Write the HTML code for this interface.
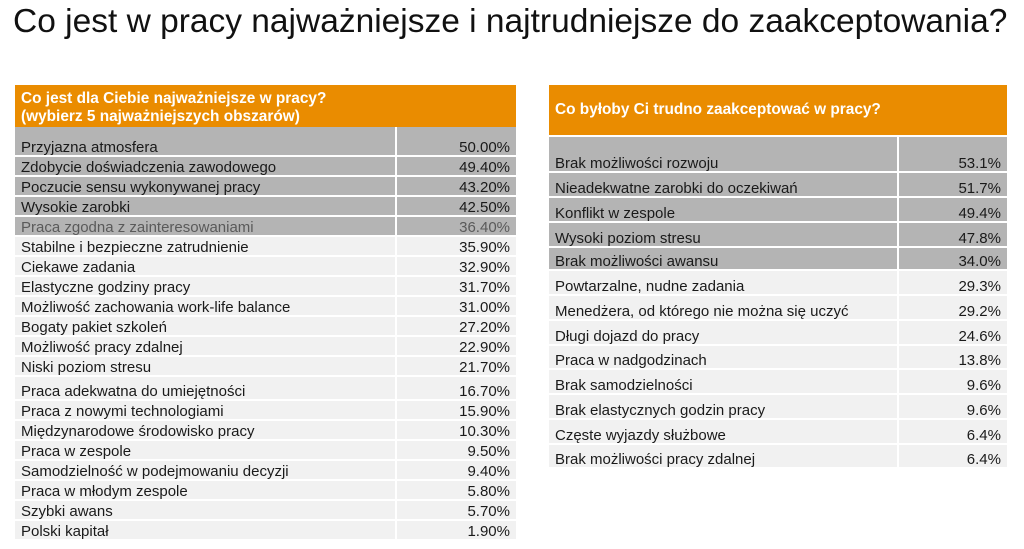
<!DOCTYPE html>
<html><head><meta charset="utf-8"><style>
body{margin:0;width:1024px;height:549px;background:#fff;font-family:"Liberation Sans",Arial,sans-serif;position:relative;overflow:hidden}
.t{position:absolute;left:13px;top:3px;font-size:33.5px;color:#111;white-space:nowrap}
.h{position:absolute;background:#ea8c00;color:#fff;font-weight:bold;font-size:15.4px;line-height:18px;box-sizing:border-box;padding-left:6px;white-space:nowrap}
.r{position:absolute;font-size:15px;color:#1a1a1a;box-sizing:border-box;border-bottom:2px solid #fff}
.r span{position:absolute;bottom:-1px;white-space:nowrap}
.g{background:#b4b4b4}
.l{background:#f1f1f1}
</style></head><body>
<div class="t">Co jest w pracy najważniejsze i najtrudniejsze do zaakceptowania?</div>
<div id="L"></div><div id="R"></div>
<script>
function table(x,w,div,hy,hh,htext,hpadTop,rows){
 let s='<div class="h" style="left:'+x+'px;top:'+hy+'px;width:'+w+'px;height:'+hh+'px;padding-top:'+hpadTop+'px">'+htext+'</div>';
 rows.forEach(r=>{
  const [t,v,y,h,c,col]=r;
  s+='<div class="r '+c+'" style="left:'+x+'px;top:'+y+'px;width:'+w+'px;height:'+h+'px;'+(col?'color:'+col:'')+'">'
   +'<div style="position:absolute;left:'+(div-x)+'px;top:0;bottom:0;width:2px;background:#fff"></div>'
   +'<span style="left:6px">'+t+'</span><span style="right:6px">'+v+'</span></div>';
 });
 return s;
}
const L=[["Przyjazna atmosfera","50.00%",127,30,"g"],["Zdobycie doświadczenia zawodowego","49.40%",157,20,"g"],["Poczucie sensu wykonywanej pracy","43.20%",177,20,"g"],["Wysokie zarobki","42.50%",197,20,"g"],["Praca zgodna z zainteresowaniami","36.40%",217,20,"g","#5a5a5a"],
["Stabilne i bezpieczne zatrudnienie","35.90%",237,20,"l"],["Ciekawe zadania","32.90%",257,20,"l"],["Elastyczne godziny pracy","31.70%",277,20,"l"],["Możliwość zachowania work-life balance","31.00%",297,20,"l"],["Bogaty pakiet szkoleń","27.20%",317,20,"l"],["Możliwość pracy zdalnej","22.90%",337,20,"l"],["Niski poziom stresu","21.70%",357,20,"l"],["Praca adekwatna do umiejętności","16.70%",377,24,"l"],["Praca z nowymi technologiami","15.90%",401,20,"l"],["Międzynarodowe środowisko pracy","10.30%",421,20,"l"],["Praca w zespole","9.50%",441,20,"l"],["Samodzielność w podejmowaniu decyzji","9.40%",461,20,"l"],["Praca w młodym zespole","5.80%",481,20,"l"],["Szybki awans","5.70%",501,20,"l"],["Polski kapitał","1.90%",521,20,"l"]];
document.getElementById('L').innerHTML=table(15,501,395,85,42,"Co jest dla Ciebie najważniejsze w pracy?<br>(wybierz 5 najważniejszych obszarów)",5,L);
const R=[["Brak możliwości rozwoju","53.1%",137,36,"g"],["Nieadekwatne zarobki do oczekiwań","51.7%",173,25,"g"],["Konflikt w zespole","49.4%",198,25,"g"],["Wysoki poziom stresu","47.8%",223,25,"g"],["Brak możliwości awansu","34.0%",248,23,"g"],
["Powtarzalne, nudne zadania","29.3%",271,25,"l"],["Menedżera, od którego nie można się uczyć","29.2%",296,25,"l"],["Długi dojazd do pracy","24.6%",321,25,"l"],["Praca w nadgodzinach","13.8%",346,24,"l"],["Brak samodzielności","9.6%",370,25,"l"],["Brak elastycznych godzin pracy","9.6%",395,25,"l"],["Częste wyjazdy służbowe","6.4%",420,25,"l"],["Brak możliwości pracy zdalnej","6.4%",445,24,"l"]];
document.getElementById('R').innerHTML=table(549,458,897,85,50,"Co byłoby Ci trudno zaakceptować w pracy?",16,R);
</script>
</body></html>
